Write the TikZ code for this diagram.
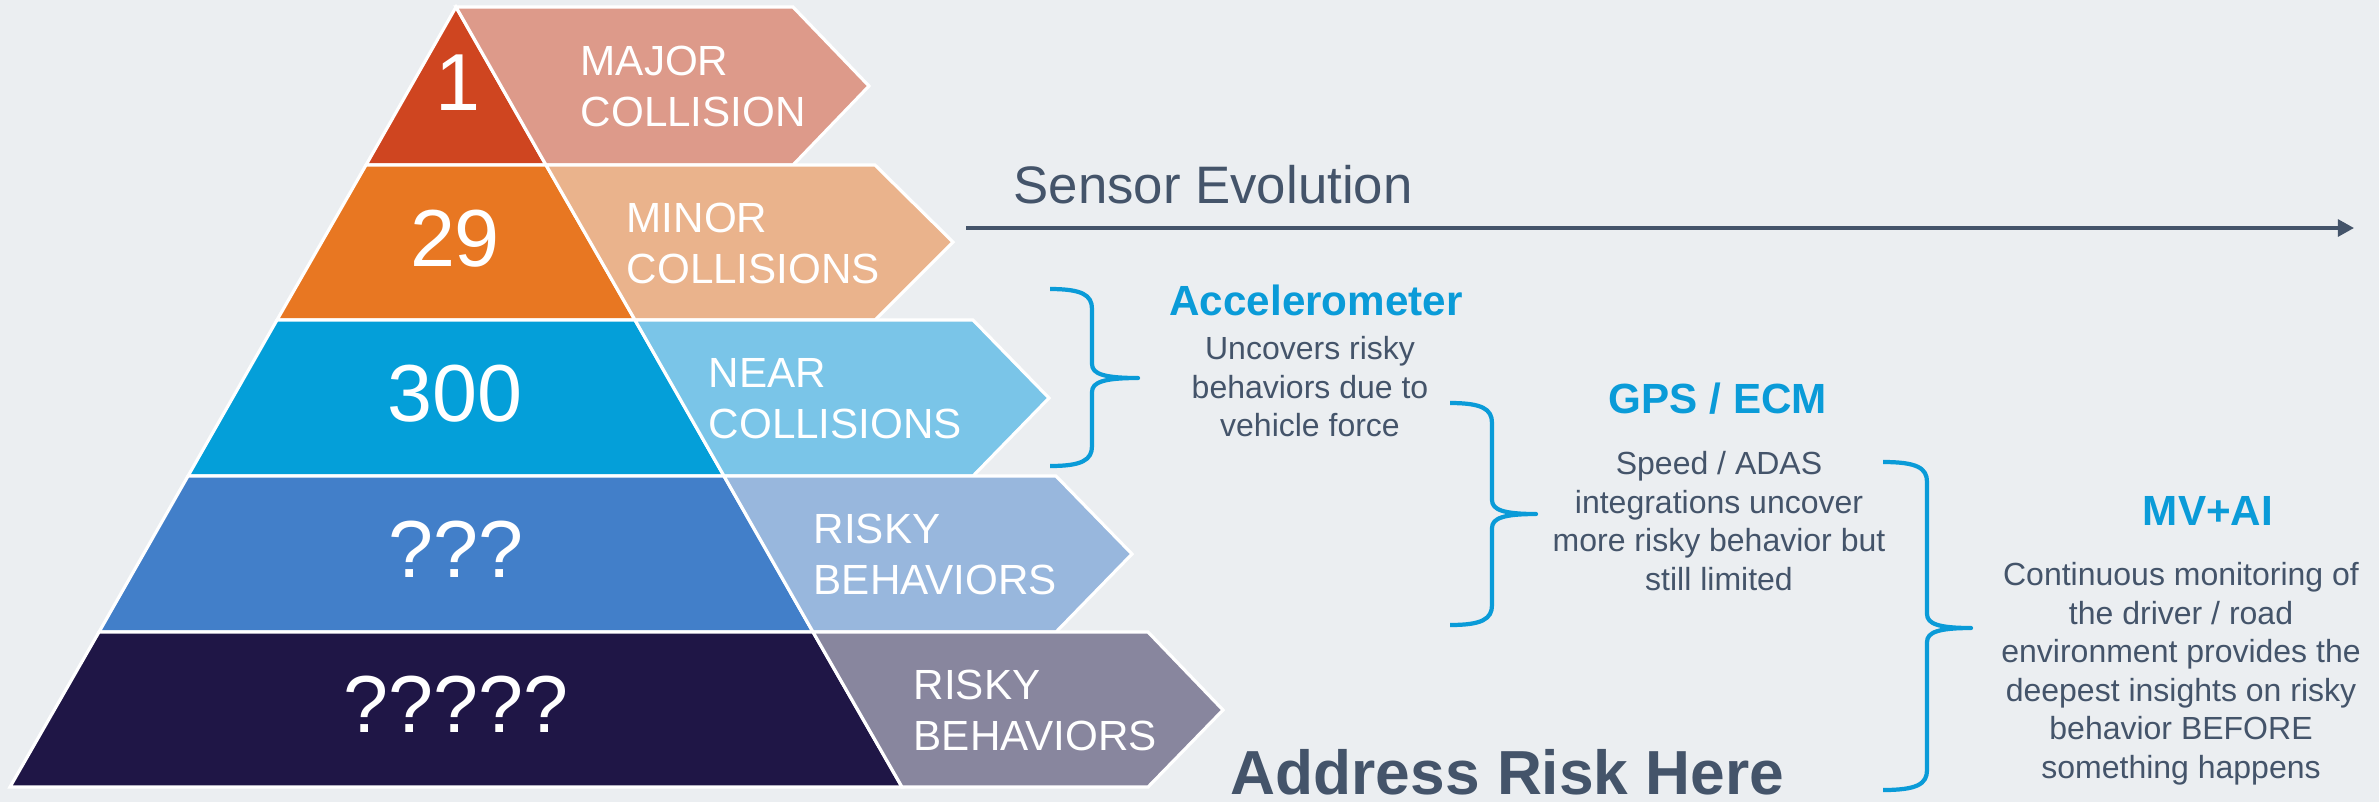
\documentclass[tikz,border=0pt]{standalone}
\usepackage{fontspec}
\setmainfont{Liberation Sans}
\usetikzlibrary{arrows.meta}

\definecolor{bg}{HTML}{EBEEF1}
\definecolor{slate}{HTML}{44546A}
\definecolor{hblue}{HTML}{0A9BD8}
\definecolor{lvA}{HTML}{CF4520}
\definecolor{lvB}{HTML}{E87722}
\definecolor{lvC}{HTML}{049FD9}
\definecolor{lvD}{HTML}{427FC9}
\definecolor{lvE}{HTML}{1F1646}
\definecolor{arA}{HTML}{DD9A8A}
\definecolor{arB}{HTML}{EAB38C}
\definecolor{arC}{HTML}{7AC5E8}
\definecolor{arD}{HTML}{98B7DD}
\definecolor{arE}{HTML}{88869E}

\tikzset{
  tier/.style={draw=white, line width=0.9pt, line join=miter},
  num/.style={text=white, font=\fontsize{23}{27}\selectfont, inner sep=0pt},
  lab/.style={text=white, font=\fontsize{12}{14.5}\selectfont, align=left, anchor=west, inner sep=0pt},
  head/.style={text=hblue, font=\bfseries\fontsize{12}{14}\selectfont, anchor=base, inner sep=0pt},
  body/.style={text=slate, font=\fontsize{9.1}{10.95}\selectfont, align=center, anchor=north, inner sep=0pt},
  bracestroke/.style={draw=hblue, line width=1.2pt, line join=round},
}

% curly brace opening to the left: x_end, x_spine, x_tip, y_top, y_mid, y_bottom
\newcommand{\skbrace}[6]{%
  \draw[bracestroke] (#1,#4) .. controls ({#2-10},#4) and (#2,{#4+6}) .. (#2,{#4+20})
    -- (#2,{#5-14}) .. controls (#2,{#5-4}) and ({#2+12},#5) .. (#3,#5)
    .. controls ({#2+12},#5) and (#2,{#5+4}) .. (#2,{#5+14})
    -- (#2,{#6-20}) .. controls (#2,{#6-6}) and ({#2-10},#6) .. (#1,#6);%
}

\begin{document}
\begin{tikzpicture}[x=0.01cm, y=-0.01cm]
  \useasboundingbox (0,0) rectangle (2379,802);
  \fill[bg] (0,0) rectangle (2379,802);

  % pyramid tiers
  \fill[lvA, tier] (456,7) -- (546,165) -- (366,165) -- cycle;
  \fill[lvB, tier] (366,165) -- (546,165) -- (635,320) -- (277,320) -- cycle;
  \fill[lvC, tier] (277,320) -- (635,320) -- (724,476) -- (188,476) -- cycle;
  \fill[lvD, tier] (188,476) -- (724,476) -- (813,632) -- (99,632) -- cycle;
  \fill[lvE, tier] (99,632) -- (813,632) -- (902,787) -- (10,787) -- cycle;

  % label arrows beside the tiers
  \fill[arA, tier] (456,7) -- (793,7) -- (869,86) -- (793,165) -- (546,165) -- cycle;
  \fill[arB, tier] (546,165) -- (875,165) -- (953,242) -- (875,320) -- (635,320) -- cycle;
  \fill[arC, tier] (635,320) -- (973,320) -- (1049,398) -- (973,476) -- (724,476) -- cycle;
  \fill[arD, tier] (724,476) -- (1056,476) -- (1132,554) -- (1056,632) -- (813,632) -- cycle;
  \fill[arE, tier] (813,632) -- (1148,632) -- (1223,710) -- (1148,787) -- (902,787) -- cycle;

  % tier counts
  \node[num] (n1) at (458,83) {1};
  \node[num] (n2) at (455,239) {29};
  \node[num] (n3) at (455,394) {300};
  \node[num] (n4) at (456,549) {???};
  \node[num] (n5) at (456,704) {?????};

  % tier labels
  \node[lab] (l1) at (580,86) {MAJOR\\COLLISION};
  \node[lab] (l2) at (626,243) {MINOR\\COLLISIONS};
  \node[lab] (l3) at (708,399) {NEAR\\COLLISIONS};
  \node[lab] (l4) at (813,554) {RISKY\\BEHAVIORS};
  \node[lab] (l5) at (913,710) {RISKY\\BEHAVIORS};

  % sensor evolution timeline
  \node[text=slate, font=\fontsize{15}{18}\selectfont, anchor=base west, inner sep=0pt]
    (evo) at (1013,203) {Sensor Evolution};
  \coordinate (evoS) at (966,228);
  \coordinate (evoE) at (2354,228);
  \draw[slate, line width=1pt, -{Triangle[length=4.6pt, width=4.8pt]}] (evoS) -- (evoE);

  % sensor stages
  \skbrace{1050}{1092}{1138}{289}{378}{466}
  \node[head] (acc) at (1316,315) {Accelerometer};
  \node[body] (accb) at (1310,336) {Uncovers risky\\behaviors due to\\vehicle force};

  \skbrace{1450}{1492}{1536}{403}{514}{625}
  \node[head] (gps) at (1718,413) {GPS / ECM};
  \node[body] (gpsb) at (1719,451) {Speed / ADAS\\integrations uncover\\more risky behavior but\\still limited};

  \skbrace{1883}{1927}{1971}{462}{628}{790}
  \node[head] (mv) at (2208,525) {MV+AI};
  \node[body] (mvb) at (2181,562) {Continuous monitoring of\\the driver / road\\environment provides the\\deepest insights on risky\\behavior BEFORE\\something happens};

  \node[text=slate, font=\bfseries\fontsize{17.7}{21}\selectfont, anchor=base west, inner sep=0pt]
    (addr) at (1230,794) {Address Risk Here};
\end{tikzpicture}
\end{document}
